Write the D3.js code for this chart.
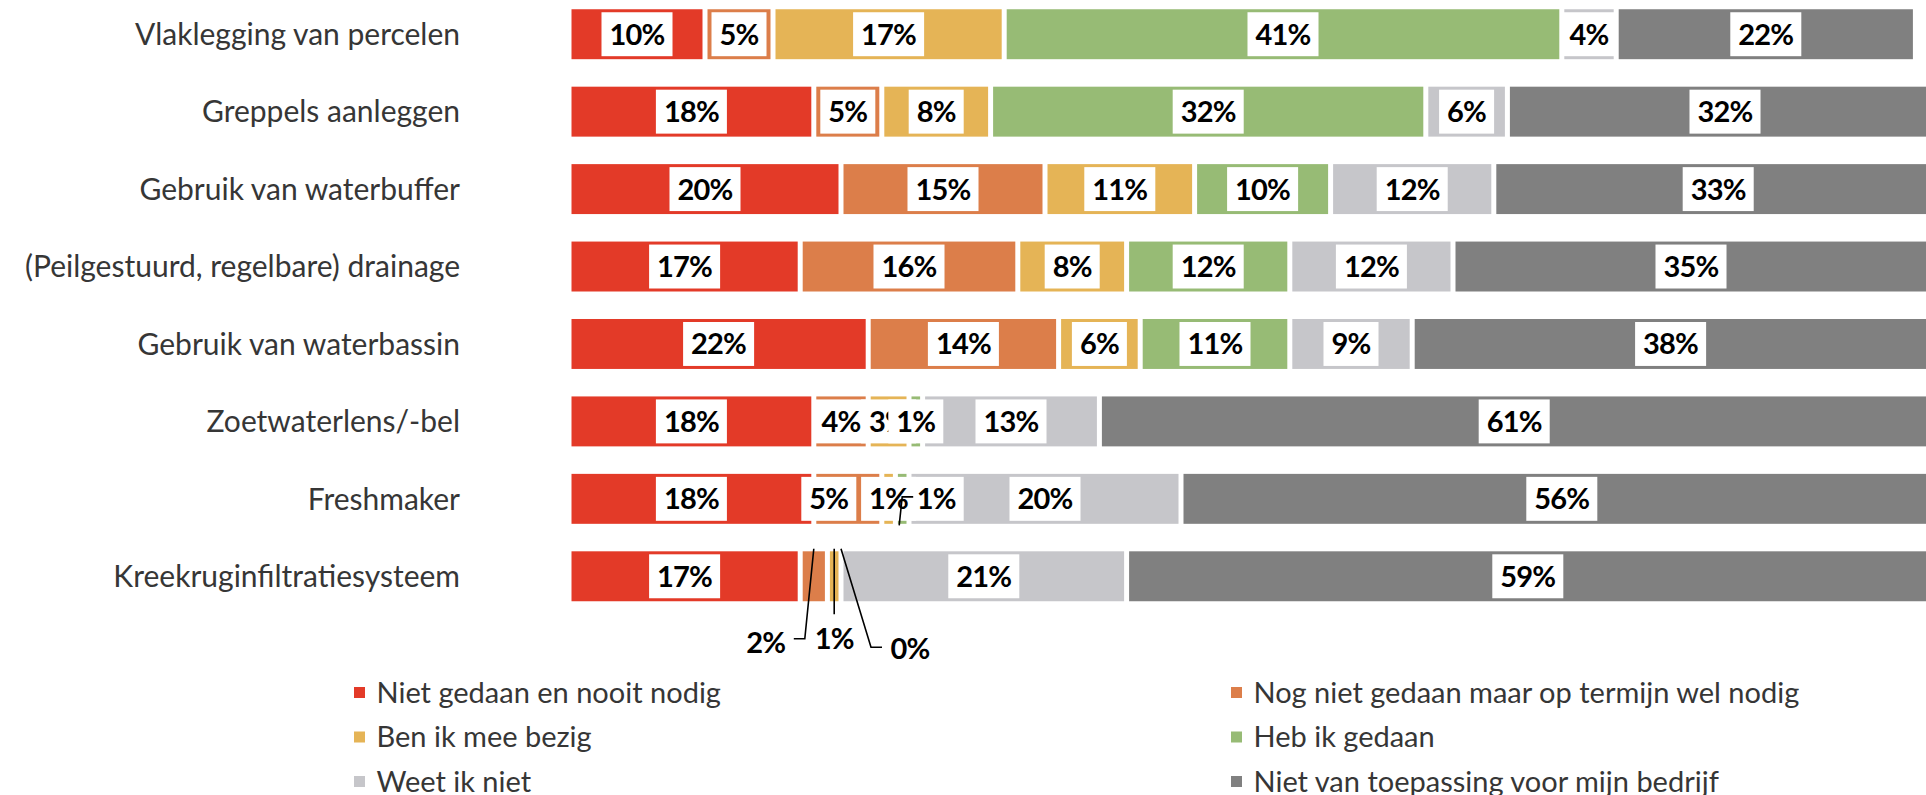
<!DOCTYPE html>
<html lang="nl">
<head>
<meta charset="utf-8">
<script src="https://cdn.jsdelivr.net/npm/d3@7/dist/d3.min.js"></script>
<style>
  html, body { margin: 0; padding: 0; background: #ffffff; overflow: hidden; }
  svg { display: block; }
  .cat { font-family: Lato, "Open Sans", sans-serif; font-size: 30px; fill: #363636; }
  .val { font-family: Lato, "Open Sans", sans-serif; font-size: 29px; font-weight: 700; fill: #000; letter-spacing: -0.8px; }
  .leg { font-family: Lato, "Open Sans", sans-serif; font-size: 29px; fill: #363636; }
</style>
</head>
<body>
<svg id="chart" width="1926" height="795"></svg>
<script>
// Maatregelen (rijen)
const categories = [
  "Vlaklegging van percelen",
  "Greppels aanleggen",
  "Gebruik van waterbuffer",
  "(Peilgestuurd, regelbare) drainage",
  "Gebruik van waterbassin",
  "Zoetwaterlens/-bel",
  "Freshmaker",
  "Kreekruginfiltratiesysteem"
];

// Antwoordcategorieën (segmenten)
const seriesNames = [
  "Niet gedaan en nooit nodig",
  "Nog niet gedaan maar op termijn wel nodig",
  "Ben ik mee bezig",
  "Heb ik gedaan",
  "Weet ik niet",
  "Niet van toepassing voor mijn bedrijf"
];

// Percentages per antwoord, in volgorde van de maatregelen
const nietGedaanNooitNodig = [10, 18, 20, 17, 22, 18, 18, 17];
const opTermijnNodig       = [ 5,  5, 15, 16, 14,  4,  5,  2];
const benIkMeeBezig        = [17,  8, 11,  8,  6,  3,  1,  1];
const hebIkGedaan          = [41, 32, 10, 12, 11,  1,  1,  0];
const weetIkNiet           = [ 4,  6, 12, 12,  9, 13, 20, 21];
const nietVanToepassing    = [22, 32, 33, 35, 38, 61, 56, 59];

const seriesValues = [
  nietGedaanNooitNodig, opTermijnNodig, benIkMeeBezig,
  hebIkGedaan, weetIkNiet, nietVanToepassing
];

const colors = ["#e33a28", "#dc7e4a", "#e5b456", "#97bb75", "#c6c6ca", "#808080"];

// Labels die buiten hun segment staan: verschuiving en verbindingslijn
// (offsets relatief t.o.v. het midden van het segment)
const labelLayout = {
  "Freshmaker|1": { dx: -19, dy: 0, box: true },
  "Freshmaker|3": { dx: 34, dy: 0, box: true,
                    leader: [[-3, 26.5], [0, -2], [11, -2]] },
  "Kreekruginfiltratiesysteem|1": { dx: -48, dy: 66, box: false,
                    leader: [[0, -27.5], [-9, 62.5], [-20, 62.5]] },
  "Kreekruginfiltratiesysteem|2": { dx: 0, dy: 62, box: false,
                    leader: [[0, -27.5], [0, 38]] },
  "Kreekruginfiltratiesysteem|3": { dx: 69, dy: 72, box: false,
                    leader: [[0, -27.5], [30, 71], [41, 71]] }
};

const svg = d3.select("#chart");

const rows = categories.map((c, i) => {
  const r = { cat: c };
  seriesNames.forEach((s, k) => { r[k] = seriesValues[k][i]; });
  return r;
});
const keys = seriesNames.map((s, k) => k);
const stacked = d3.stack().keys(keys)(rows);

const x = d3.scaleLinear().domain([0, 100]).range([569, 1929]);
const y = d3.scaleBand().domain(categories)
  .range([-4.5, 615]).paddingInner(0.355).paddingOuter(0.1775);

const gap = 2.5;

// Categorie-as
const yAxis = d3.axisLeft(y).tickSize(0).tickPadding(0);
const axisG = svg.append("g").attr("transform", "translate(460,0)").call(yAxis);
axisG.select(".domain").remove();
axisG.selectAll("text").attr("class", "cat").attr("dy", "0.36em");
axisG.attr("font-size", null).attr("font-family", null);

// Segmenten
const layers = svg.append("g").selectAll("g").data(stacked).join("g")
  .attr("fill", (d, k) => colors[k]);

layers.selectAll("rect").data(d => d.map(p => ({ p, key: d.key })))
  .join("rect")
  .attr("x", d => x(d.p[0]) + gap)
  .attr("y", d => y(d.p.data.cat))
  .attr("width", d => Math.max(0, x(d.p[1]) - x(d.p[0]) - 2 * gap))
  .attr("height", y.bandwidth());

// Waardelabels
const labelsG = svg.append("g");
stacked.forEach(layer => {
  layer.forEach(p => {
    const v = p[1] - p[0];
    const cat = p.data.cat;
    const lay = labelLayout[cat + "|" + layer.key];
    if (v <= 0 && !lay) return;
    const cx = (x(p[0]) + x(p[1])) / 2;
    const cy = y(cat) + y.bandwidth() / 2;
    const conf = lay || { dx: 0, dy: 0, box: true };
    const tx = cx + conf.dx, ty = cy + conf.dy;
    const g = labelsG.append("g");
    if (conf.leader) {
      svg.append("path")
        .attr("d", d3.line()(conf.leader.map(pt => [cx + pt[0], cy + pt[1]])))
        .attr("fill", "none").attr("stroke", "#000").attr("stroke-width", 1.6);
    }
    const rect = g.append("rect").attr("fill", "#fff");
    const t = g.append("text").attr("class", "val")
      .attr("x", tx).attr("y", ty).attr("dy", "0.36em")
      .attr("text-anchor", "middle")
      .text(d3.format(".0f")(v) + "%");
    if (conf.box) {
      const w = t.node().getComputedTextLength() + 16;
      rect.attr("x", tx - w / 2).attr("y", y(cat) + 3)
        .attr("width", w).attr("height", y.bandwidth() - 6);
    } else {
      rect.remove();
    }
  });
});

// Legenda: twee kolommen
const legendOrder = [0, 1, 2, 3, 4, 5];
const legCols = [354, 1231];
const legRows = [692.5, 737, 781.5];
const leg = svg.append("g").selectAll("g").data(legendOrder).join("g")
  .attr("transform", (k, i) => `translate(${legCols[i % 2]},${legRows[Math.floor(i / 2)]})`);
leg.append("rect").attr("x", 0).attr("y", -5.5).attr("width", 11).attr("height", 11)
  .attr("fill", k => colors[k]);
leg.append("text").attr("class", "leg").attr("x", 22.5).attr("dy", "0.35em")
  .text(k => seriesNames[k]);
</script>
</body>
</html>
